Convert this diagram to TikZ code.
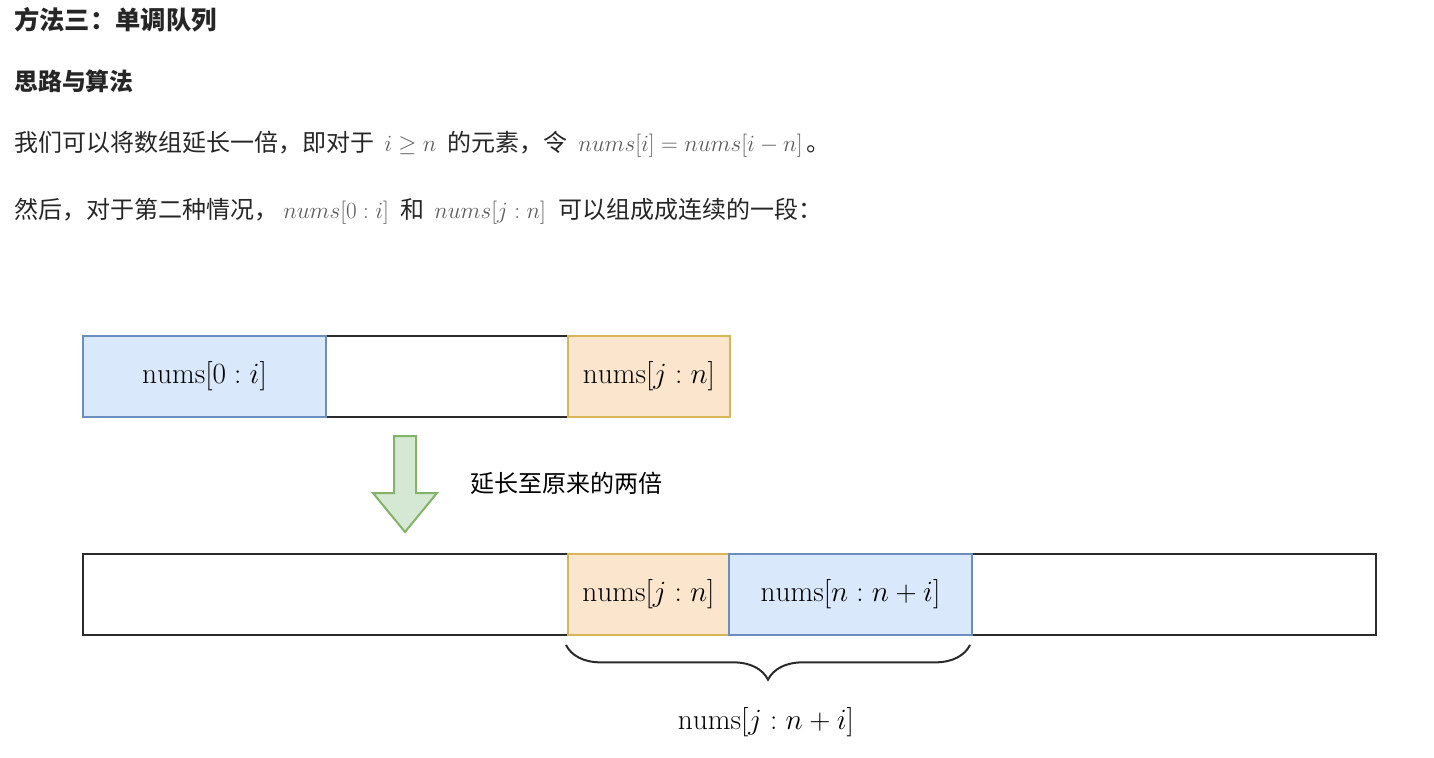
\RequirePackage{fix-cm}
\documentclass[tikz,border=0pt]{standalone}
\usepackage{fontspec}
\newfontfamily\cjk{Noto Sans CJK SC}
\usetikzlibrary{decorations.pathreplacing}
\definecolor{bluefill}{HTML}{DAE8FC}
\definecolor{bluedraw}{HTML}{6C8EBF}
\definecolor{orfill}{HTML}{FCE5CD}
\definecolor{ordraw}{HTML}{D6B656}
\definecolor{grfill}{HTML}{D5E8D4}
\definecolor{grdraw}{HTML}{82B366}
\definecolor{txt}{HTML}{262626}
\definecolor{mathc}{HTML}{5C5C5C}
\definecolor{linec}{HTML}{2B2B2B}
\begin{document}
\begin{tikzpicture}[x=0.75pt,y=-0.75pt,
  cjktext/.style={anchor=base west, inner sep=0, text=txt, font=\cjk\fontsize{18}{18}\selectfont},
  mathtext/.style={anchor=base west, inner sep=0, text=mathc, font=\fontsize{17.4}{17.4}\selectfont},
  cell/.style={draw, line width=1.5pt, inner sep=0, anchor=north west, minimum height=60.75pt, font=\fontsize{22}{22}\selectfont},
  outer/.style={cell, draw=linec},
  bluecell/.style={cell, draw=bluedraw, fill=bluefill},
  orcell/.style={cell, draw=ordraw, fill=orfill},
  bigarrow/.style={draw=grdraw, fill=grfill, line width=1.5pt, line join=miter},
  bracestyle/.style={draw=linec, line width=1.5pt, decorate, decoration={brace, amplitude=26pt, mirror}}
]
\useasboundingbox (0,0) rectangle (1434,757);

% headings and text
\node[anchor=base west, inner sep=0, text=txt, font=\cjk\bfseries\fontsize{19}{19}\selectfont] (title) at (14,29.5) {方法三：单调队列};
\node[anchor=base west, inner sep=0, text=txt, font=\cjk\bfseries\fontsize{17.9}{17.9}\selectfont] (sub) at (14,90) {思路与算法};

\node[cjktext] (l1a) at (14,151) {我们可以将数组延长一倍，即对于};
\node[mathtext] (l1b) at (384,151) {$i \ge n$};
\node[cjktext] (l1c) at (447,151) {的元素，令};
\node[mathtext] (l1d) at (578,151) {$nums[i] = nums[i-n]$};
\node[cjktext] (l1e) at (806,151) {。};

\node[cjktext] (l2a) at (14,218) {然后，对于第二种情况，};
\node[mathtext] (l2b) at (283,218) {$nums[0:i]$};
\node[cjktext] (l2c) at (400,218) {和};
\node[mathtext] (l2d) at (434,218) {$nums[j:n]$};
\node[cjktext] (l2e) at (558,218) {可以组成成连续的一段：};

% top row
\node[outer, minimum width=485.25pt] (top) at (82,335) {};
\node[bluecell, minimum width=182.25pt] (topblue) at (82,335) {$\mathrm{nums}[0:i]$};
\node[orcell, minimum width=121.5pt] (toporange) at (567,335) {$\mathrm{nums}[j:n]$};

% arrow
\draw[bigarrow] (394,436) -- (416,436) -- (416,493) -- (437,493) -- (405,532) -- (373,493) -- (394,493) -- cycle;
\node[anchor=west, inner sep=0, text=black, font=\cjk\fontsize{18}{18}\selectfont] (ext) at (470,483) {延长至原来的两倍};

% bottom row
\node[outer, minimum width=969.75pt] (bot) at (82,553) {};
\node[orcell, minimum width=120.75pt] (botorange) at (567,553) {$\mathrm{nums}[j:n]$};
\node[bluecell, minimum width=182.25pt] (botblue) at (728,553) {$\mathrm{nums}[n:n+i]$};

% brace
\coordinate (bl) at (566,645);
\coordinate (br) at (970,645);
\draw[bracestyle] (bl) -- (br);
\node[inner sep=0, font=\fontsize{22}{22}\selectfont] (lab) at (766,722) {$\mathrm{nums}[j:n+i]$};
\end{tikzpicture}
\end{document}
